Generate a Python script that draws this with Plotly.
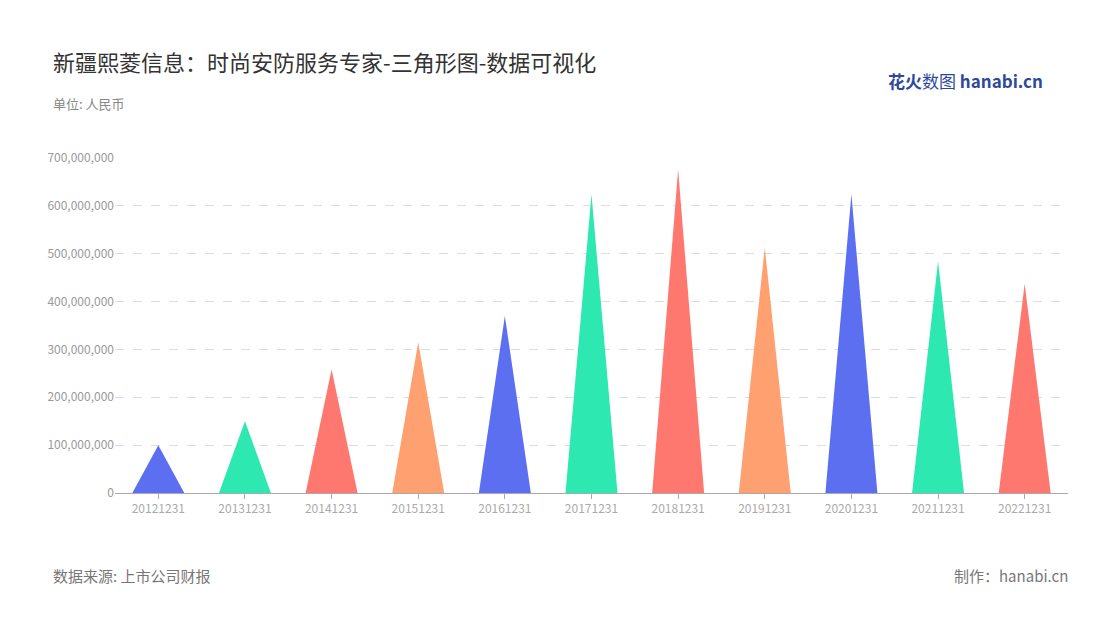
import plotly.graph_objects as go

years = ["20121231","20131231","20141231","20151231","20161231","20171231","20181231","20191231","20201231","20211231","20221231"]
values = [100e6, 150e6, 258e6, 315e6, 370e6, 624e6, 676e6, 513e6, 624e6, 484e6, 437e6]
colors = ["#5b6ff0","#2de8b0","#ff7870","#ffa070"]

fig = go.Figure()
hw = 0.3
for i, (y, v) in enumerate(zip(years, values)):
    fig.add_trace(go.Scatter(x=[i-hw, i, i+hw, i-hw], y=[0, v, 0, 0], fill="toself",
                             fillcolor=colors[i % 4], line=dict(width=0), mode="lines",
                             hoverinfo="text", text=f"{y}: {v:,.0f}", showlegend=False))

fig.update_layout(
    width=1100, height=620, plot_bgcolor="white", paper_bgcolor="white",
    margin=dict(l=107, r=40, t=150, b=135),
    font=dict(family="Noto Sans CJK SC", color="#999"),
    xaxis=dict(range=[-0.5, 10.5], tickvals=list(range(len(years))), ticktext=years,
               showgrid=False, zeroline=False, showline=True, linecolor="#aaa",
               ticks="outside", ticklen=5, tickcolor="#aaa", tickfont=dict(size=12, color="#aaa")),
    yaxis=dict(range=[0, 700e6], dtick=100e6, tickformat=",.0f", showgrid=True,
               gridcolor="#ddd", griddash="dash", zeroline=False, tickfont=dict(size=12, color="#999")),
    annotations=[
        dict(text="新疆熙菱信息：时尚安防服务专家-三角形图-数据可视化", x=43, y=620-55, xref="paper", yref="paper",
             showarrow=False, font=dict(size=22, color="#333")),
    ],
)
ann = [
    dict(text="新疆熙菱信息：时尚安防服务专家-三角形图-数据可视化", x=43/1100, y=1-53/620, size=22, color="#333", xa="left"),
    dict(text="单位: 人民币", x=43/1100, y=1-96/620, size=13, color="#888", xa="left"),
    dict(text="数据来源: 上市公司财报", x=43/1100, y=1-567/620, size=15, color="#777", xa="left"),
    dict(text="制作：hanabi.cn", x=1062/1100, y=1-567/620, size=15, color="#777", xa="right"),
    dict(text="<b>花火</b>数图 <b>hanabi.cn</b>", x=1037/1100, y=1-72/620, size=17, color="#2d4a9a", xa="right"),
]
fig.layout.annotations = [
    dict(text=a["text"], x=a["x"], y=a["y"], xref="paper", yref="paper", showarrow=False,
         xanchor=a["xa"], yanchor="middle", font=dict(size=a["size"], color=a["color"])) for a in ann
]
# convert paper coords relative to full figure
for a in fig.layout.annotations:
    px = a.x * 1100; py = (1 - a.y) * 620
    a.x = (px - 107) / (1100 - 107 - 40)
    a.y = (620 - 135 - py) / (620 - 150 - 135)
fig.write_html("out.html")
